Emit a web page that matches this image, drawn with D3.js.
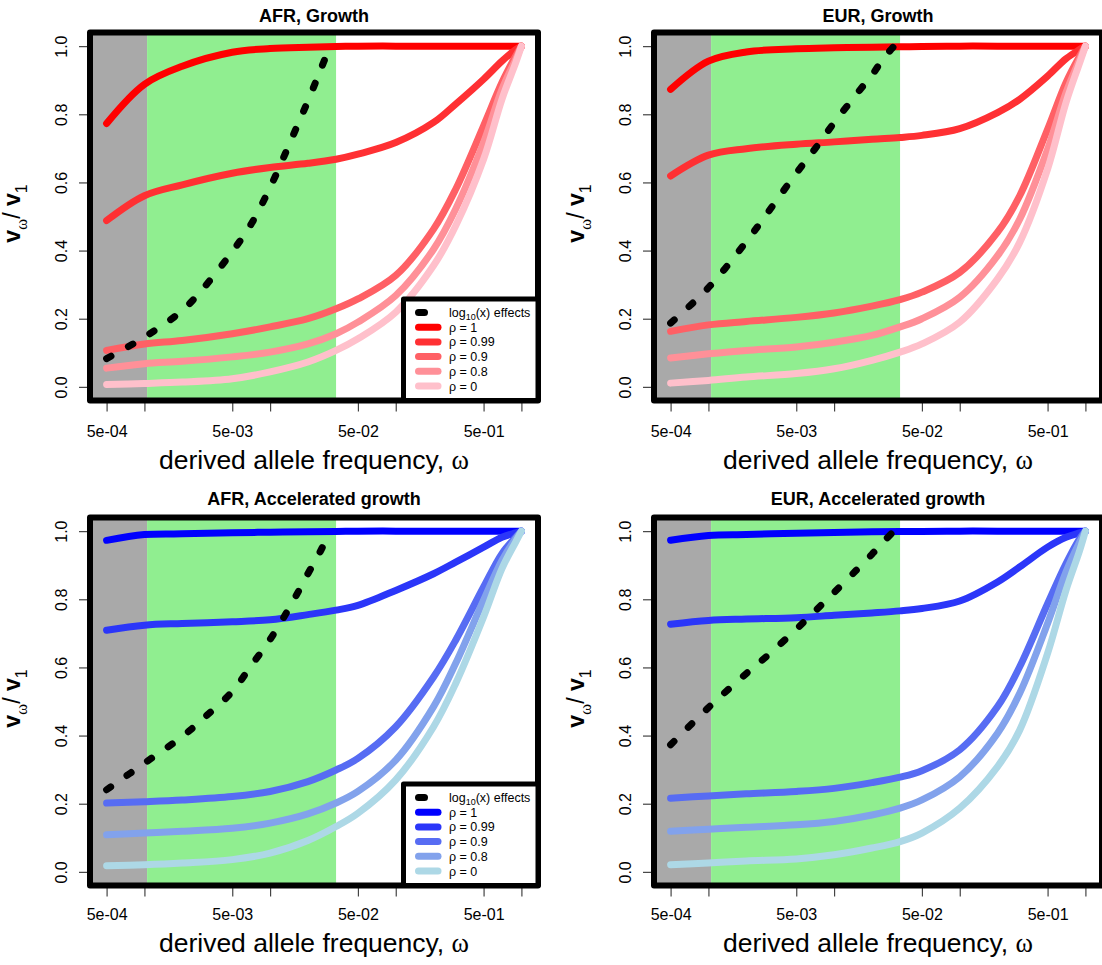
<!DOCTYPE html>
<html>
<head>
<meta charset="utf-8">
<script src="https://cdn.jsdelivr.net/npm/d3@7"></script>
<style>
  body { margin: 0; background: #fff; }
  svg { display: block; }
  text { font-family: "Liberation Sans", Arial, Helvetica, sans-serif; }
</style>
</head>
<body>
<svg id="fig" width="1102" height="965"></svg>
<script>
// Derived allele frequency grid for the variance curves
const freq = [5e-4, 1e-3, 2e-3, 5e-3, 1e-2, 2e-2, 3.35e-2, 5e-2, 0.1, 0.2, 0.3, 0.5, 0.7, 0.9, 1.0];
// Frequency grid for the log10(x) effects reference curve
const effFreq = [5e-4, 1e-3, 2e-3, 3e-3, 5e-3, 7e-3, 1e-2, 1.5e-2, 2e-2, 2.5e-2, 3e-2];

// Shaded frequency classes
const rareCutoff = 1.05e-3;
const commonCutoff = 3.35e-2;

const rhoLabels = ["ρ = 1", "ρ = 0.99", "ρ = 0.9", "ρ = 0.8", "ρ = 0"];
const redShades = ["#FF0000", "#FF3033", "#FF6065", "#FF9098", "#FFC0CB"];
const blueShades = ["#0000FF", "#2B36F9", "#576CF3", "#82A2EC", "#ADD8E6"];

// AFR, Growth
const afrGrowthRho1   = [0.773, 0.888, 0.941, 0.982, 0.993, 0.997, 0.999, 1, 1, 1, 1, 1, 1, 1, 1];
const afrGrowthRho099 = [0.488, 0.561, 0.593, 0.627, 0.644, 0.656, 0.668, 0.683, 0.717, 0.776, 0.830, 0.903, 0.956, 0.990, 1];
const afrGrowthRho09  = [0.107, 0.126, 0.136, 0.156, 0.176, 0.200, 0.229, 0.258, 0.327, 0.463, 0.580, 0.766, 0.893, 0.971, 1];
const afrGrowthRho08  = [0.055, 0.068, 0.075, 0.088, 0.102, 0.126, 0.156, 0.190, 0.268, 0.404, 0.522, 0.717, 0.873, 0.961, 1];
const afrGrowthRho0   = [0.007, 0.010, 0.014, 0.024, 0.044, 0.073, 0.107, 0.141, 0.219, 0.356, 0.473, 0.668, 0.844, 0.951, 1];
const afrGrowthEffects = [0.083, 0.146, 0.224, 0.293, 0.397, 0.475, 0.585, 0.732, 0.839, 0.927, 1.0];

// EUR, Growth
const eurGrowthRho1   = [0.873, 0.956, 0.983, 0.992, 0.995, 0.997, 0.998, 0.999, 1, 1, 1, 1, 1, 1, 1];
const eurGrowthRho099 = [0.619, 0.680, 0.699, 0.712, 0.719, 0.727, 0.732, 0.738, 0.758, 0.805, 0.844, 0.912, 0.963, 0.990, 1];
const eurGrowthRho09  = [0.163, 0.182, 0.192, 0.204, 0.217, 0.237, 0.256, 0.278, 0.336, 0.454, 0.561, 0.756, 0.893, 0.971, 1];
const eurGrowthRho08  = [0.085, 0.097, 0.107, 0.117, 0.131, 0.151, 0.176, 0.200, 0.263, 0.385, 0.492, 0.697, 0.863, 0.961, 1];
const eurGrowthRho0   = [0.011, 0.019, 0.029, 0.039, 0.053, 0.078, 0.102, 0.126, 0.190, 0.317, 0.424, 0.639, 0.834, 0.951, 1];
const eurGrowthEffects = [0.187, 0.291, 0.426, 0.514, 0.627, 0.697, 0.775, 0.858, 0.915, 0.966, 1.0];

// AFR, Accelerated growth
const afrAccelRho1   = [0.973, 0.990, 0.992, 0.995, 0.997, 0.998, 0.999, 1, 1, 1, 1, 1, 1, 1, 1];
const afrAccelRho099 = [0.709, 0.724, 0.729, 0.734, 0.740, 0.755, 0.768, 0.782, 0.826, 0.875, 0.909, 0.953, 0.982, 0.995, 1];
const afrAccelRho09  = [0.202, 0.206, 0.211, 0.221, 0.236, 0.265, 0.299, 0.333, 0.426, 0.572, 0.680, 0.836, 0.934, 0.982, 1];
const afrAccelRho08  = [0.109, 0.114, 0.119, 0.128, 0.143, 0.170, 0.202, 0.236, 0.328, 0.485, 0.612, 0.797, 0.914, 0.978, 1];
const afrAccelRho0   = [0.018, 0.021, 0.026, 0.036, 0.055, 0.092, 0.133, 0.172, 0.270, 0.426, 0.553, 0.748, 0.890, 0.968, 1];
const afrAccelEffects = [0.241, 0.319, 0.397, 0.453, 0.529, 0.603, 0.682, 0.790, 0.875, 0.939, 1.0];

// EUR, Accelerated growth
const eurAccelRho1   = [0.973, 0.987, 0.990, 0.994, 0.996, 0.998, 0.999, 0.999, 1, 1, 1, 1, 1, 1, 1];
const eurAccelRho099 = [0.727, 0.738, 0.742, 0.746, 0.753, 0.760, 0.766, 0.773, 0.795, 0.851, 0.895, 0.953, 0.982, 0.995, 1];
const eurAccelRho09  = [0.216, 0.223, 0.229, 0.236, 0.245, 0.262, 0.278, 0.297, 0.358, 0.485, 0.602, 0.787, 0.904, 0.978, 1];
const eurAccelRho08  = [0.119, 0.125, 0.131, 0.138, 0.148, 0.167, 0.187, 0.211, 0.279, 0.407, 0.524, 0.729, 0.880, 0.968, 1];
const eurAccelRho0   = [0.021, 0.026, 0.032, 0.038, 0.050, 0.070, 0.089, 0.114, 0.187, 0.309, 0.416, 0.641, 0.826, 0.943, 1];
const eurAccelEffects = [0.373, 0.482, 0.582, 0.637, 0.712, 0.764, 0.820, 0.885, 0.932, 0.971, 1.0];

const xTickValues = [5e-4, 1e-3, 5e-3, 1e-2, 5e-2, 0.1, 0.5, 1];
const xTickLabels = ["5e-04", "", "5e-03", "", "5e-02", "", "5e-01", ""];
const yTickValues = [0, 0.2, 0.4, 0.6, 0.8, 1.0];

const panels = [
  { title: "AFR, Growth", series: [afrGrowthRho1, afrGrowthRho099, afrGrowthRho09, afrGrowthRho08, afrGrowthRho0],
    effects: afrGrowthEffects, colors: redShades, legend: true, textShift: 0,
    box: { left: 90, right: 538, top: 32.5, bottom: 400.5 } },
  { title: "EUR, Growth", series: [eurGrowthRho1, eurGrowthRho099, eurGrowthRho09, eurGrowthRho08, eurGrowthRho0],
    effects: eurGrowthEffects, colors: redShades, legend: false, textShift: 0,
    box: { left: 654, right: 1102, top: 32.5, bottom: 400.5 } },
  { title: "AFR, Accelerated growth", series: [afrAccelRho1, afrAccelRho099, afrAccelRho09, afrAccelRho08, afrAccelRho0],
    effects: afrAccelEffects, colors: blueShades, legend: true, textShift: -2,
    box: { left: 90, right: 538, top: 517.5, bottom: 885.5 } },
  { title: "EUR, Accelerated growth", series: [eurAccelRho1, eurAccelRho099, eurAccelRho09, eurAccelRho08, eurAccelRho0],
    effects: eurAccelEffects, colors: blueShades, legend: false, textShift: -2,
    box: { left: 654, right: 1102, top: 517.5, bottom: 885.5 } }
];

const svg = d3.select("#fig");

// R-style 4% padding of the data range on both axes
const logSpan = Math.log10(1 / 5e-4);
const pad = 0.04 * logSpan;
const xDomain = [5e-4 * Math.pow(10, -pad), Math.pow(10, pad)];
const yDomain = [-0.04, 1.04];

const lineW = 7;

panels.forEach((p, i) => {
  const b = p.box;
  const s = p.textShift;
  const x = d3.scaleLog().domain(xDomain).range([b.left, b.right]);
  const y = d3.scaleLinear().domain(yDomain).range([b.bottom, b.top]);
  const g = svg.append("g");

  const clipId = "clip" + i;
  g.append("clipPath").attr("id", clipId)
    .append("rect").attr("x", b.left).attr("y", b.top)
    .attr("width", b.right - b.left).attr("height", b.bottom - b.top);

  const plot = g.append("g").attr("clip-path", `url(#${clipId})`);

  // frequency-class shading
  plot.append("rect")
    .attr("x", b.left).attr("y", b.top)
    .attr("width", x(rareCutoff) - b.left).attr("height", b.bottom - b.top)
    .attr("fill", "#A9A9A9");
  plot.append("rect")
    .attr("x", x(rareCutoff)).attr("y", b.top)
    .attr("width", x(commonCutoff) - x(rareCutoff)).attr("height", b.bottom - b.top)
    .attr("fill", "#90EE90");

  const line = d3.line()
    .x(d => x(d[0]))
    .y(d => y(d[1]))
    .curve(d3.curveCatmullRom.alpha(0.5));

  p.series.forEach((vals, k) => {
    plot.append("path")
      .datum(freq.map((f, j) => [f, vals[j]]))
      .attr("d", line)
      .attr("fill", "none")
      .attr("stroke", p.colors[k])
      .attr("stroke-width", lineW)
      .attr("stroke-linecap", "round")
      .attr("stroke-linejoin", "round");
  });

  plot.append("path")
    .datum(effFreq.map((f, j) => [f, p.effects[j]]))
    .attr("d", line)
    .attr("fill", "none")
    .attr("stroke", "#000")
    .attr("stroke-width", lineW)
    .attr("stroke-linecap", "round")
    .attr("stroke-dasharray", "5 20");

  // x axis
  const xAxis = d3.axisBottom(x).tickValues(xTickValues)
    .tickFormat((d, j) => xTickLabels[j]).tickSize(9);
  const gx = g.append("g").attr("transform", `translate(0,${b.bottom + 2})`).call(xAxis);
  gx.select(".domain").remove();
  gx.selectAll(".tick line").attr("stroke", "#444").attr("stroke-width", 1.2);
  gx.selectAll(".tick text")
    .attr("y", 34 + s).attr("dy", 0)
    .style("font-size", "16px").attr("fill", "#000");

  // y axis
  const yAxis = d3.axisLeft(y).tickValues(yTickValues)
    .tickFormat(d3.format(".1f")).tickSize(11);
  const gy = g.append("g").attr("transform", `translate(${b.left},0)`).call(yAxis);
  gy.select(".domain").remove();
  gy.selectAll(".tick line").attr("stroke", "#444").attr("stroke-width", 1.2);
  gy.selectAll(".tick text")
    .attr("x", null).attr("dy", null)
    .attr("transform", "translate(-23.5,0) rotate(-90)")
    .attr("text-anchor", "middle")
    .style("font-size", "16px").attr("fill", "#000");

  // frame
  g.append("rect")
    .attr("x", b.left).attr("y", b.top)
    .attr("width", b.right - b.left).attr("height", b.bottom - b.top)
    .attr("fill", "none").attr("stroke", "#000")
    .attr("stroke-width", 6).attr("stroke-linejoin", "round");

  // legend
  if (p.legend) {
    const lg = g.append("g");
    const lx = b.right - 134.5, ly = b.bottom - 101.5;
    lg.append("rect")
      .attr("x", lx).attr("y", ly)
      .attr("width", b.right - lx).attr("height", b.bottom - ly)
      .attr("fill", "#fff").attr("stroke", "#000")
      .attr("stroke-width", 5).attr("stroke-linejoin", "round");
    const rowY = j => ly + 13.5 + j * 14.7;
    // dashed entry
    lg.append("line")
      .attr("x1", lx + 15).attr("x2", lx + 21)
      .attr("y1", rowY(0)).attr("y2", rowY(0))
      .attr("stroke", "#000").attr("stroke-width", lineW).attr("stroke-linecap", "round");
    const t0 = lg.append("text").attr("x", lx + 45.5).attr("y", rowY(0) + 4.5)
      .style("font-size", "12.5px");
    t0.append("tspan").text("log");
    t0.append("tspan").attr("dy", 3).style("font-size", "9px").text("10");
    t0.append("tspan").attr("dy", -3).text("(x) effects");
    rhoLabels.forEach((lab, k) => {
      const yy = rowY(k + 1);
      lg.append("line")
        .attr("x1", lx + 15).attr("x2", lx + 34.5)
        .attr("y1", yy).attr("y2", yy)
        .attr("stroke", p.colors[k]).attr("stroke-width", lineW).attr("stroke-linecap", "round");
      lg.append("text").attr("x", lx + 45.5).attr("y", yy + 4.5)
        .style("font-size", "12.5px").text(lab);
    });
  }

  const cx = (b.left + b.right) / 2;

  // title
  g.append("text").attr("x", cx).attr("y", b.top - 11 + s)
    .attr("text-anchor", "middle")
    .style("font-size", "18px").style("font-weight", "bold")
    .text(p.title);

  // x label
  const xl = g.append("text").attr("x", cx).attr("y", b.bottom + 68 + s)
    .attr("text-anchor", "middle").style("font-size", "26.5px");
  xl.append("tspan").text("derived allele frequency, ");
  xl.append("tspan").style("font-family", "'Liberation Serif', 'DejaVu Serif', serif").text("ω");

  // y label
  const yl = g.append("text")
    .attr("transform", `translate(${b.left - 70},${(b.top + b.bottom) / 2 - 3}) rotate(-90)`)
    .attr("text-anchor", "middle").style("font-size", "23px");
  yl.append("tspan").style("font-weight", "bold").text("v");
  yl.append("tspan").attr("dy", 7).style("font-size", "17px")
    .style("font-family", "'Liberation Serif', 'DejaVu Serif', serif").text("ω");
  yl.append("tspan").attr("dy", -7).text("/ ");
  yl.append("tspan").style("font-weight", "bold").text("v");
  yl.append("tspan").attr("dy", 7).style("font-size", "16px").text("1");
});
</script>
</body>
</html>
